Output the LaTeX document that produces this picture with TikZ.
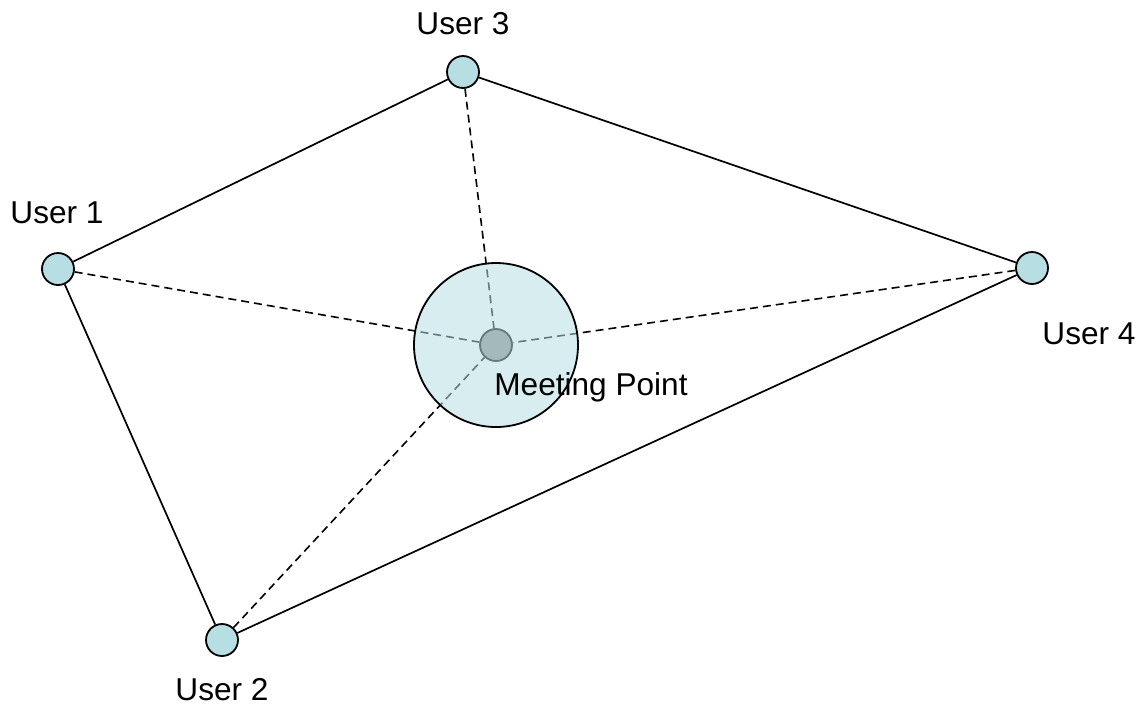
\documentclass[tikz,border=0pt]{standalone}
\usepackage{fontspec}
\setmainfont{Liberation Sans}
\definecolor{userblue}{RGB}{183,222,227}
\begin{document}
\begin{tikzpicture}[x=0.5pt,y=-0.5pt,
  user/.style={circle,draw,line width=0.9pt,fill=userblue,minimum size=16pt,inner sep=0pt},
  lbl/.style={font=\fontsize{15.8}{18}\selectfont,inner sep=0pt},
  link/.style={line width=0.85pt},
  route/.style={line width=0.8pt,dash pattern=on 4pt off 2.5pt}]
  \useasboundingbox (0,0) rectangle (1145,709);
  % users and meeting point
  \node[user] (user1) at (58,269) {};
  \node[user] (user2) at (222,640) {};
  \node[user] (user3) at (463,72) {};
  \node[user] (user4) at (1032,268) {};
  \node[user,fill=gray!90] (meet) at (496,345) {};

  \draw[link] (user1) -- (user3) -- (user4) -- (user2) -- (user1);
  \foreach \u in {user1,user2,user3,user4} {
    \draw[route] (\u) -- (meet);
  }
  % zone round the meeting point
  \node[circle,draw,line width=0.9pt,fill=userblue,fill opacity=0.55,
    minimum size=82pt] (zone) at (496,345) {};

  \node[lbl] (l1) at (57,213) {User 1};
  \node[lbl] (l2) at (222,690) {User 2};
  \node[lbl] (l3) at (463,24) {User 3};
  \node[lbl] (l4) at (1089,334) {User 4};
  \node[lbl] (lm) at (591,387) {Meeting Point};
\end{tikzpicture}
\end{document}
